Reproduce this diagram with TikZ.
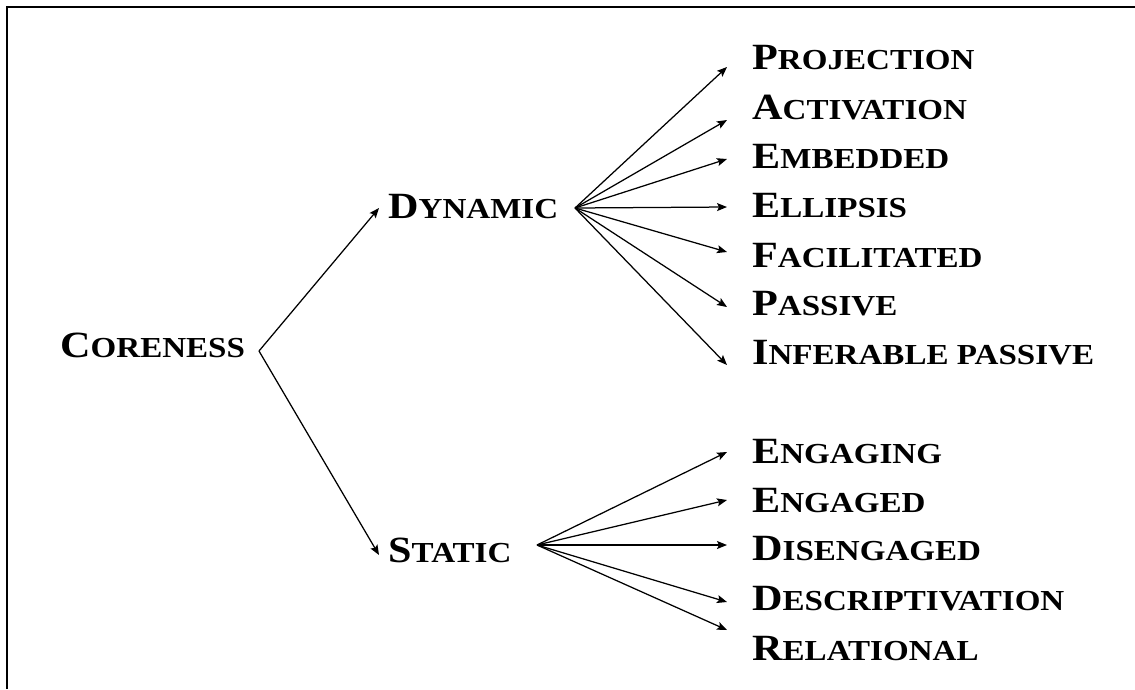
\documentclass[tikz,border=0pt]{standalone}
\usepackage{fontspec}
\setmainfont[FakeStretch=1.14]{Liberation Serif}
\usetikzlibrary{arrows.meta}
\newcommand\sck[2]{{\fontsize{37}{40}\selectfont #1}{\fontsize{29}{32}\selectfont #2}}
\tikzset{
  lbl/.style={anchor=base west, inner sep=0pt, font=\bfseries},
  arr/.style={line width=1.25pt, -{Stealth[length=10pt,width=8pt,inset=2pt]}},
}
\begin{document}
\begin{tikzpicture}[x=1pt,y=-1pt]
\useasboundingbox (0,0) rectangle (1135,689);
\draw[line width=2.2pt] (7,689) -- (7,7) -- (1135,7);
% labels
\node[lbl] (core) at (60,357) {\sck{C}{ORENESS}};
\node[lbl] (dyn) at (388,218) {\sck{D}{YNAMIC}};
\node[lbl] (stat) at (388,562) {\sck{S}{TATIC}};
\node[lbl] (d1) at (752,69) {\sck{P}{ROJECTION}};
\node[lbl] (d2) at (752,119) {\sck{A}{CTIVATION}};
\node[lbl] (d3) at (752,168) {\sck{E}{MBEDDED}};
\node[lbl] (d4) at (752,217) {\sck{E}{LLIPSIS}};
\node[lbl] (d5) at (752,267) {\sck{F}{ACILITATED}};
\node[lbl] (d6) at (752,315) {\sck{P}{ASSIVE}};
\node[lbl] (d7) at (752,364) {\sck{I}{NFERABLE PASSIVE}};
\node[lbl] (s1) at (752,463) {\sck{E}{NGAGING}};
\node[lbl] (s2) at (752,512) {\sck{E}{NGAGED}};
\node[lbl] (s3) at (752,560) {\sck{D}{ISENGAGED}};
\node[lbl] (s4) at (752,610) {\sck{D}{ESCRIPTIVATION}};
\node[lbl] (s5) at (752,660) {\sck{R}{ELATIONAL}};
% connector ends
\coordinate (cO) at (259,351);
\coordinate (dynT) at (379,208);
\coordinate (statT) at (379,555);
\coordinate (dO) at (575,208);
\coordinate (sO) at (537,545);
\coordinate (t1) at (727,67);
\coordinate (t2) at (727,120);
\coordinate (t3) at (727,159);
\coordinate (t4) at (727,207);
\coordinate (t5) at (727,252);
\coordinate (t6) at (727,307);
\coordinate (t7) at (727,365);
\coordinate (u1) at (727,452);
\coordinate (u2) at (727,500);
\coordinate (u3) at (727,545);
\coordinate (u4) at (727,602);
\coordinate (u5) at (727,630);
% connectors
\draw[arr] (cO) -- (dynT);
\draw[arr] (cO) -- (statT);
\foreach \t in {t1,t2,t3,t4,t5,t6,t7} \draw[arr] (dO) -- (\t);
\foreach \t in {u1,u2,u3,u4,u5} \draw[arr] (sO) -- (\t);
\end{tikzpicture}
\end{document}
